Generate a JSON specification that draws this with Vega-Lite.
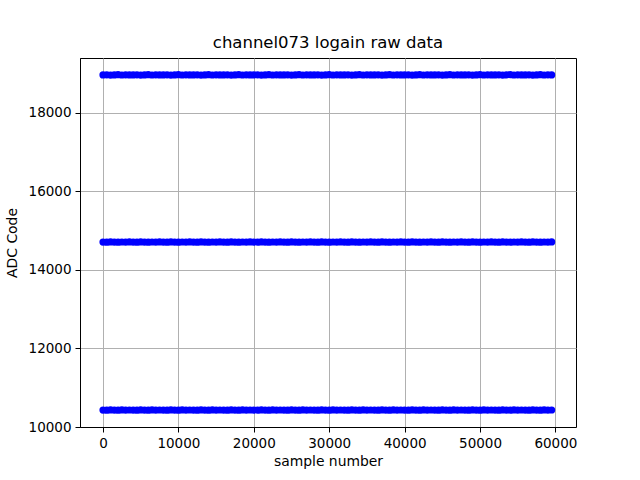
{
  "$schema": "https://vega.github.io/schema/vega-lite/v6.json",
  "width": 496,
  "height": 369,
  "autosize": {"type": "none"},
  "padding": {"left": 80, "top": 58, "right": 64, "bottom": 53},
  "background": "white",
  "config": {
    "font": "DejaVu Sans",
    "view": {"stroke": "black", "strokeWidth": 1},
    "axis": {
      "domainColor": "black",
      "domainWidth": 1,
      "tickColor": "black",
      "tickSize": 5,
      "tickWidth": 1,
      "gridColor": "#b0b0b0",
      "gridWidth": 1,
      "labelFont": "DejaVu Sans",
      "labelFontSize": 13.5,
      "labelColor": "black",
      "titleFont": "DejaVu Sans",
      "titleFontSize": 13.9,
      "titleFontWeight": "normal",
      "titleColor": "black",
      "labelPadding": 4
    }
  },
  "title": {
    "text": "channel073 logain raw data",
    "font": "DejaVu Sans",
    "fontSize": 16.5,
    "fontWeight": "normal",
    "color": "black",
    "offset": 7
  },
  "data": {
    "values": [
      {"s":0,"v":18969},{"s":500,"v":18972},{"s":1000,"v":18966},{"s":1500,"v":18970},{"s":2000,"v":18974},{"s":2500,"v":18967},{"s":3000,"v":18971},{"s":3500,"v":18968},{"s":4000,"v":18969},{"s":4500,"v":18972},
      {"s":5000,"v":18966},{"s":5500,"v":18970},{"s":6000,"v":18974},{"s":6500,"v":18967},{"s":7000,"v":18971},{"s":7500,"v":18968},{"s":8000,"v":18969},{"s":8500,"v":18972},{"s":9000,"v":18966},{"s":9500,"v":18970},
      {"s":10000,"v":18974},{"s":10500,"v":18967},{"s":11000,"v":18971},{"s":11500,"v":18968},{"s":12000,"v":18969},{"s":12500,"v":18972},{"s":13000,"v":18966},{"s":13500,"v":18970},{"s":14000,"v":18974},{"s":14500,"v":18967},
      {"s":15000,"v":18971},{"s":15500,"v":18968},{"s":16000,"v":18969},{"s":16500,"v":18972},{"s":17000,"v":18966},{"s":17500,"v":18970},{"s":18000,"v":18974},{"s":18500,"v":18967},{"s":19000,"v":18971},{"s":19500,"v":18968},
      {"s":20000,"v":18969},{"s":20500,"v":18972},{"s":21000,"v":18966},{"s":21500,"v":18970},{"s":22000,"v":18974},{"s":22500,"v":18967},{"s":23000,"v":18971},{"s":23500,"v":18968},{"s":24000,"v":18969},{"s":24500,"v":18972},
      {"s":25000,"v":18966},{"s":25500,"v":18970},{"s":26000,"v":18974},{"s":26500,"v":18967},{"s":27000,"v":18971},{"s":27500,"v":18968},{"s":28000,"v":18969},{"s":28500,"v":18972},{"s":29000,"v":18966},{"s":29500,"v":18970},
      {"s":30000,"v":18974},{"s":30500,"v":18967},{"s":31000,"v":18971},{"s":31500,"v":18968},{"s":32000,"v":18969},{"s":32500,"v":18972},{"s":33000,"v":18966},{"s":33500,"v":18970},{"s":34000,"v":18974},{"s":34500,"v":18967},
      {"s":35000,"v":18971},{"s":35500,"v":18968},{"s":36000,"v":18969},{"s":36500,"v":18972},{"s":37000,"v":18966},{"s":37500,"v":18970},{"s":38000,"v":18974},{"s":38500,"v":18967},{"s":39000,"v":18971},{"s":39500,"v":18968},
      {"s":40000,"v":18969},{"s":40500,"v":18972},{"s":41000,"v":18966},{"s":41500,"v":18970},{"s":42000,"v":18974},{"s":42500,"v":18967},{"s":43000,"v":18971},{"s":43500,"v":18968},{"s":44000,"v":18969},{"s":44500,"v":18972},
      {"s":45000,"v":18966},{"s":45500,"v":18970},{"s":46000,"v":18974},{"s":46500,"v":18967},{"s":47000,"v":18971},{"s":47500,"v":18968},{"s":48000,"v":18969},{"s":48500,"v":18972},{"s":49000,"v":18966},{"s":49500,"v":18970},
      {"s":50000,"v":18974},{"s":50500,"v":18967},{"s":51000,"v":18971},{"s":51500,"v":18968},{"s":52000,"v":18969},{"s":52500,"v":18972},{"s":53000,"v":18966},{"s":53500,"v":18970},{"s":54000,"v":18974},{"s":54500,"v":18967},
      {"s":55000,"v":18971},{"s":55500,"v":18968},{"s":56000,"v":18969},{"s":56500,"v":18972},{"s":57000,"v":18966},{"s":57500,"v":18970},{"s":58000,"v":18974},{"s":58500,"v":18967},{"s":59000,"v":18971},{"s":59500,"v":18968},
      {"s":0,"v":14712},{"s":500,"v":14709},{"s":1000,"v":14715},{"s":1500,"v":14711},{"s":2000,"v":14707},{"s":2500,"v":14713},{"s":3000,"v":14710},{"s":3500,"v":14714},{"s":4000,"v":14712},{"s":4500,"v":14709},
      {"s":5000,"v":14715},{"s":5500,"v":14711},{"s":6000,"v":14707},{"s":6500,"v":14713},{"s":7000,"v":14710},{"s":7500,"v":14714},{"s":8000,"v":14712},{"s":8500,"v":14709},{"s":9000,"v":14715},{"s":9500,"v":14711},
      {"s":10000,"v":14707},{"s":10500,"v":14713},{"s":11000,"v":14710},{"s":11500,"v":14714},{"s":12000,"v":14712},{"s":12500,"v":14709},{"s":13000,"v":14715},{"s":13500,"v":14711},{"s":14000,"v":14707},{"s":14500,"v":14713},
      {"s":15000,"v":14710},{"s":15500,"v":14714},{"s":16000,"v":14712},{"s":16500,"v":14709},{"s":17000,"v":14715},{"s":17500,"v":14711},{"s":18000,"v":14707},{"s":18500,"v":14713},{"s":19000,"v":14710},{"s":19500,"v":14714},
      {"s":20000,"v":14712},{"s":20500,"v":14709},{"s":21000,"v":14715},{"s":21500,"v":14711},{"s":22000,"v":14707},{"s":22500,"v":14713},{"s":23000,"v":14710},{"s":23500,"v":14714},{"s":24000,"v":14712},{"s":24500,"v":14709},
      {"s":25000,"v":14715},{"s":25500,"v":14711},{"s":26000,"v":14707},{"s":26500,"v":14713},{"s":27000,"v":14710},{"s":27500,"v":14714},{"s":28000,"v":14712},{"s":28500,"v":14709},{"s":29000,"v":14715},{"s":29500,"v":14711},
      {"s":30000,"v":14707},{"s":30500,"v":14713},{"s":31000,"v":14710},{"s":31500,"v":14714},{"s":32000,"v":14712},{"s":32500,"v":14709},{"s":33000,"v":14715},{"s":33500,"v":14711},{"s":34000,"v":14707},{"s":34500,"v":14713},
      {"s":35000,"v":14710},{"s":35500,"v":14714},{"s":36000,"v":14712},{"s":36500,"v":14709},{"s":37000,"v":14715},{"s":37500,"v":14711},{"s":38000,"v":14707},{"s":38500,"v":14713},{"s":39000,"v":14710},{"s":39500,"v":14714},
      {"s":40000,"v":14712},{"s":40500,"v":14709},{"s":41000,"v":14715},{"s":41500,"v":14711},{"s":42000,"v":14707},{"s":42500,"v":14713},{"s":43000,"v":14710},{"s":43500,"v":14714},{"s":44000,"v":14712},{"s":44500,"v":14709},
      {"s":45000,"v":14715},{"s":45500,"v":14711},{"s":46000,"v":14707},{"s":46500,"v":14713},{"s":47000,"v":14710},{"s":47500,"v":14714},{"s":48000,"v":14712},{"s":48500,"v":14709},{"s":49000,"v":14715},{"s":49500,"v":14711},
      {"s":50000,"v":14707},{"s":50500,"v":14713},{"s":51000,"v":14710},{"s":51500,"v":14714},{"s":52000,"v":14712},{"s":52500,"v":14709},{"s":53000,"v":14715},{"s":53500,"v":14711},{"s":54000,"v":14707},{"s":54500,"v":14713},
      {"s":55000,"v":14710},{"s":55500,"v":14714},{"s":56000,"v":14712},{"s":56500,"v":14709},{"s":57000,"v":14715},{"s":57500,"v":14711},{"s":58000,"v":14707},{"s":58500,"v":14713},{"s":59000,"v":14710},{"s":59500,"v":14714},
      {"s":0,"v":10432},{"s":500,"v":10429},{"s":1000,"v":10435},{"s":1500,"v":10431},{"s":2000,"v":10428},{"s":2500,"v":10434},{"s":3000,"v":10430},{"s":3500,"v":10433},{"s":4000,"v":10432},{"s":4500,"v":10429},
      {"s":5000,"v":10435},{"s":5500,"v":10431},{"s":6000,"v":10428},{"s":6500,"v":10434},{"s":7000,"v":10430},{"s":7500,"v":10433},{"s":8000,"v":10432},{"s":8500,"v":10429},{"s":9000,"v":10435},{"s":9500,"v":10431},
      {"s":10000,"v":10428},{"s":10500,"v":10434},{"s":11000,"v":10430},{"s":11500,"v":10433},{"s":12000,"v":10432},{"s":12500,"v":10429},{"s":13000,"v":10435},{"s":13500,"v":10431},{"s":14000,"v":10428},{"s":14500,"v":10434},
      {"s":15000,"v":10430},{"s":15500,"v":10433},{"s":16000,"v":10432},{"s":16500,"v":10429},{"s":17000,"v":10435},{"s":17500,"v":10431},{"s":18000,"v":10428},{"s":18500,"v":10434},{"s":19000,"v":10430},{"s":19500,"v":10433},
      {"s":20000,"v":10432},{"s":20500,"v":10429},{"s":21000,"v":10435},{"s":21500,"v":10431},{"s":22000,"v":10428},{"s":22500,"v":10434},{"s":23000,"v":10430},{"s":23500,"v":10433},{"s":24000,"v":10432},{"s":24500,"v":10429},
      {"s":25000,"v":10435},{"s":25500,"v":10431},{"s":26000,"v":10428},{"s":26500,"v":10434},{"s":27000,"v":10430},{"s":27500,"v":10433},{"s":28000,"v":10432},{"s":28500,"v":10429},{"s":29000,"v":10435},{"s":29500,"v":10431},
      {"s":30000,"v":10428},{"s":30500,"v":10434},{"s":31000,"v":10430},{"s":31500,"v":10433},{"s":32000,"v":10432},{"s":32500,"v":10429},{"s":33000,"v":10435},{"s":33500,"v":10431},{"s":34000,"v":10428},{"s":34500,"v":10434},
      {"s":35000,"v":10430},{"s":35500,"v":10433},{"s":36000,"v":10432},{"s":36500,"v":10429},{"s":37000,"v":10435},{"s":37500,"v":10431},{"s":38000,"v":10428},{"s":38500,"v":10434},{"s":39000,"v":10430},{"s":39500,"v":10433},
      {"s":40000,"v":10432},{"s":40500,"v":10429},{"s":41000,"v":10435},{"s":41500,"v":10431},{"s":42000,"v":10428},{"s":42500,"v":10434},{"s":43000,"v":10430},{"s":43500,"v":10433},{"s":44000,"v":10432},{"s":44500,"v":10429},
      {"s":45000,"v":10435},{"s":45500,"v":10431},{"s":46000,"v":10428},{"s":46500,"v":10434},{"s":47000,"v":10430},{"s":47500,"v":10433},{"s":48000,"v":10432},{"s":48500,"v":10429},{"s":49000,"v":10435},{"s":49500,"v":10431},
      {"s":50000,"v":10428},{"s":50500,"v":10434},{"s":51000,"v":10430},{"s":51500,"v":10433},{"s":52000,"v":10432},{"s":52500,"v":10429},{"s":53000,"v":10435},{"s":53500,"v":10431},{"s":54000,"v":10428},{"s":54500,"v":10434},
      {"s":55000,"v":10430},{"s":55500,"v":10433},{"s":56000,"v":10432},{"s":56500,"v":10429},{"s":57000,"v":10435},{"s":57500,"v":10431},{"s":58000,"v":10428},{"s":58500,"v":10434},{"s":59000,"v":10430},{"s":59500,"v":10433}
    ]
  },
  "mark": {"type": "point", "filled": true, "shape": "circle", "color": "#0000ff", "opacity": 1, "size": 52},
  "encoding": {
    "x": {
      "field": "s",
      "type": "quantitative",
      "title": "sample number",
      "scale": {"domain": [-3050, 62730], "nice": false, "zero": false},
      "axis": {"values": [0, 10000, 20000, 30000, 40000, 50000, 60000], "format": "d", "titlePadding": 5}
    },
    "y": {
      "field": "v",
      "type": "quantitative",
      "title": "ADC Code",
      "scale": {"domain": [10000, 19400], "nice": false, "zero": false},
      "axis": {"values": [10000, 12000, 14000, 16000, 18000], "format": "d", "titlePadding": 9}
    }
  }
}
